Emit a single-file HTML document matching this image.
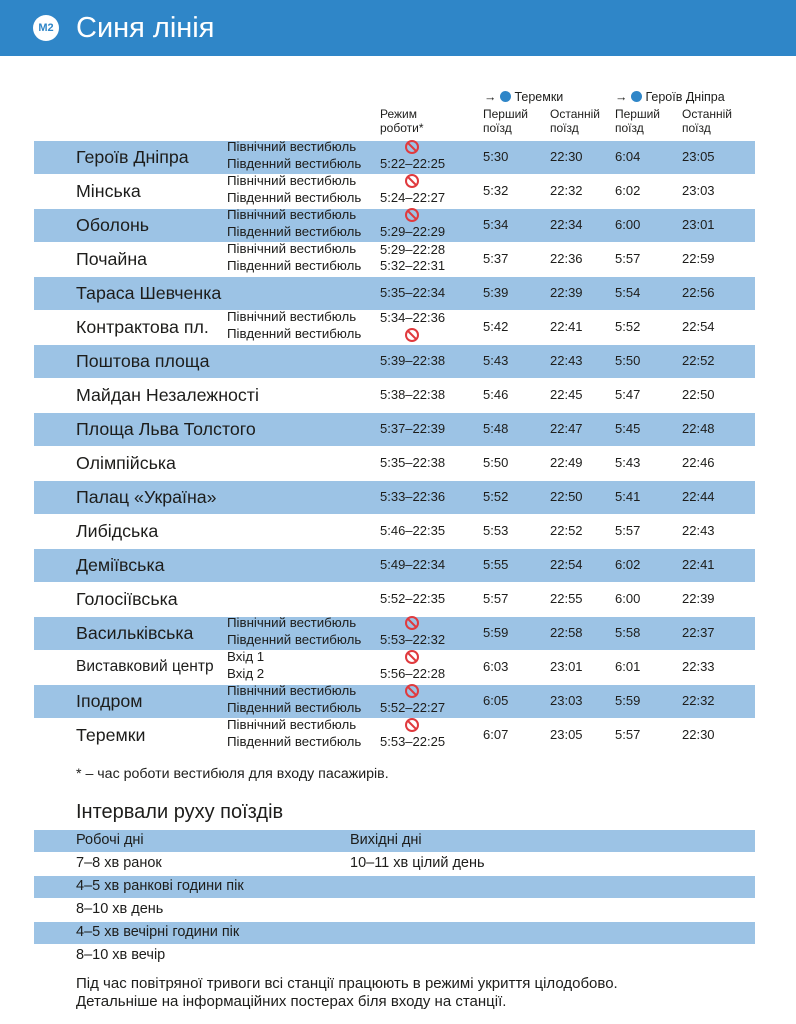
<!DOCTYPE html>
<html><head><meta charset="utf-8"><style>
*{margin:0;padding:0;box-sizing:border-box}
body{width:796px;height:1024px;background:#fff;position:relative;overflow:hidden;font-family:"Liberation Sans",sans-serif;color:#1d1d1b}
.hdr{position:absolute;left:0;top:0;width:796px;height:56px;background:#2f86c8}
.hdr .m{position:absolute;left:33px;top:15px;width:26px;height:26px;border-radius:50%;background:#fff;color:#2f86c8;font-size:11px;font-weight:bold;text-align:center;line-height:26px}
.hdr .t{position:absolute;left:76px;top:10px;color:#fff;font-size:29px;line-height:36px}
.r{position:absolute;left:34px;width:721px;height:34px}
.b{background:#9cc3e5;box-shadow:inset 0 1px 0 #fff}
.r span{position:absolute;white-space:nowrap}
.n{left:42px;top:7px;font-size:17.8px;line-height:20px}
.v1{left:193px;top:-1px;font-size:13.3px;line-height:16px}
.v2{left:193px;top:16px;font-size:13.3px;line-height:16px}
.rg{left:346px;top:9px;font-size:13px;line-height:16px}
.rg2{left:346px;top:16px;font-size:13px;line-height:16px}
.rg1{left:346px;top:0px;font-size:13px;line-height:16px}
.ic{width:14px;height:14px;border:2.5px solid #e03a3e;border-radius:50%;}
.ic::after{content:"";position:absolute;left:4px;top:-1px;width:2px;height:12px;background:#e03a3e;transform:rotate(-45deg)}
.i1{left:371px;top:0px}
.i2{left:371px;top:18px}
.c1{left:449px;top:9px;font-size:13px;line-height:16px}
.c2{left:516px;top:9px;font-size:13px;line-height:16px}
.c3{left:581px;top:9px;font-size:13px;line-height:16px}
.c4{left:648px;top:9px;font-size:13px;line-height:16px}
.h{position:absolute;font-size:12px;line-height:14px;white-space:nowrap}
.sm{position:absolute;font-size:13.5px;white-space:nowrap}
.ir{position:absolute;left:34px;width:721px;height:23px}
.ir span{position:absolute;top:3px;font-size:14.5px;white-space:nowrap}
.mc{display:inline-block;width:11px;height:11px;border-radius:50%;background:#2f86c8;vertical-align:-1px}
</style></head><body>
<div class="hdr"><div class="m">M2</div><div class="t">Синя лінія</div></div>

<div class="h" style="left:484px;top:90px;font-size:12.5px">→ <span class="mc"></span> Теремки</div>
<div class="h" style="left:615px;top:90px;font-size:12.5px">→ <span class="mc"></span> Героїв Дніпра</div>
<div class="h" style="left:380px;top:107px">Режим<br>роботи*</div>
<div class="h" style="left:483px;top:107px">Перший<br>поїзд</div>
<div class="h" style="left:550px;top:107px">Останній<br>поїзд</div>
<div class="h" style="left:615px;top:107px">Перший<br>поїзд</div>
<div class="h" style="left:682px;top:107px">Останній<br>поїзд</div>

<div class="r b" style="top:140px"><span class="n">Героїв Дніпра</span><span class="v1">Північний вестибюль</span><span class="v2">Південний вестибюль</span><span class="ic i1"></span><span class="rg2">5:22–22:25</span><span class="c1">5:30</span><span class="c2">22:30</span><span class="c3">6:04</span><span class="c4">23:05</span></div>
<div class="r" style="top:174px"><span class="n">Мінська</span><span class="v1">Північний вестибюль</span><span class="v2">Південний вестибюль</span><span class="ic i1"></span><span class="rg2">5:24–22:27</span><span class="c1">5:32</span><span class="c2">22:32</span><span class="c3">6:02</span><span class="c4">23:03</span></div>
<div class="r b" style="top:208px"><span class="n">Оболонь</span><span class="v1">Північний вестибюль</span><span class="v2">Південний вестибюль</span><span class="ic i1"></span><span class="rg2">5:29–22:29</span><span class="c1">5:34</span><span class="c2">22:34</span><span class="c3">6:00</span><span class="c4">23:01</span></div>
<div class="r" style="top:242px"><span class="n">Почайна</span><span class="v1">Північний вестибюль</span><span class="v2">Південний вестибюль</span><span class="rg1">5:29–22:28</span><span class="rg2">5:32–22:31</span><span class="c1">5:37</span><span class="c2">22:36</span><span class="c3">5:57</span><span class="c4">22:59</span></div>
<div class="r b" style="top:276px"><span class="n">Тараса Шевченка</span><span class="rg">5:35–22:34</span><span class="c1">5:39</span><span class="c2">22:39</span><span class="c3">5:54</span><span class="c4">22:56</span></div>
<div class="r" style="top:310px"><span class="n">Контрактова пл.</span><span class="v1">Північний вестибюль</span><span class="v2">Південний вестибюль</span><span class="rg1">5:34–22:36</span><span class="ic i2"></span><span class="c1">5:42</span><span class="c2">22:41</span><span class="c3">5:52</span><span class="c4">22:54</span></div>
<div class="r b" style="top:344px"><span class="n">Поштова площа</span><span class="rg">5:39–22:38</span><span class="c1">5:43</span><span class="c2">22:43</span><span class="c3">5:50</span><span class="c4">22:52</span></div>
<div class="r" style="top:378px"><span class="n">Майдан Незалежності</span><span class="rg">5:38–22:38</span><span class="c1">5:46</span><span class="c2">22:45</span><span class="c3">5:47</span><span class="c4">22:50</span></div>
<div class="r b" style="top:412px"><span class="n">Площа Льва Толстого</span><span class="rg">5:37–22:39</span><span class="c1">5:48</span><span class="c2">22:47</span><span class="c3">5:45</span><span class="c4">22:48</span></div>
<div class="r" style="top:446px"><span class="n">Олімпійська</span><span class="rg">5:35–22:38</span><span class="c1">5:50</span><span class="c2">22:49</span><span class="c3">5:43</span><span class="c4">22:46</span></div>
<div class="r b" style="top:480px"><span class="n">Палац «Україна»</span><span class="rg">5:33–22:36</span><span class="c1">5:52</span><span class="c2">22:50</span><span class="c3">5:41</span><span class="c4">22:44</span></div>
<div class="r" style="top:514px"><span class="n">Либідська</span><span class="rg">5:46–22:35</span><span class="c1">5:53</span><span class="c2">22:52</span><span class="c3">5:57</span><span class="c4">22:43</span></div>
<div class="r b" style="top:548px"><span class="n">Деміївська</span><span class="rg">5:49–22:34</span><span class="c1">5:55</span><span class="c2">22:54</span><span class="c3">6:02</span><span class="c4">22:41</span></div>
<div class="r" style="top:582px"><span class="n">Голосіївська</span><span class="rg">5:52–22:35</span><span class="c1">5:57</span><span class="c2">22:55</span><span class="c3">6:00</span><span class="c4">22:39</span></div>
<div class="r b" style="top:616px"><span class="n">Васильківська</span><span class="v1">Північний вестибюль</span><span class="v2">Південний вестибюль</span><span class="ic i1"></span><span class="rg2">5:53–22:32</span><span class="c1">5:59</span><span class="c2">22:58</span><span class="c3">5:58</span><span class="c4">22:37</span></div>
<div class="r" style="top:650px"><span class="n" style="font-size:15.5px">Виставковий центр</span><span class="v1">Вхід 1</span><span class="v2">Вхід 2</span><span class="ic i1"></span><span class="rg2">5:56–22:28</span><span class="c1">6:03</span><span class="c2">23:01</span><span class="c3">6:01</span><span class="c4">22:33</span></div>
<div class="r b" style="top:684px"><span class="n">Іподром</span><span class="v1">Північний вестибюль</span><span class="v2">Південний вестибюль</span><span class="ic i1"></span><span class="rg2">5:52–22:27</span><span class="c1">6:05</span><span class="c2">23:03</span><span class="c3">5:59</span><span class="c4">22:32</span></div>
<div class="r" style="top:718px"><span class="n">Теремки</span><span class="v1">Північний вестибюль</span><span class="v2">Південний вестибюль</span><span class="ic i1"></span><span class="rg2">5:53–22:25</span><span class="c1">6:07</span><span class="c2">23:05</span><span class="c3">5:57</span><span class="c4">22:30</span></div>

<div class="sm" style="left:76px;top:766px;font-size:14.2px">* – час роботи вестибюля для входу пасажирів.</div>
<div class="sm" style="left:76px;top:801px;font-size:20px">Інтервали руху поїздів</div>

<div class="ir b" style="top:829px"><span style="left:42px">Робочі дні</span><span style="left:316px">Вихідні дні</span></div>
<div class="ir" style="top:852px"><span style="left:42px">7–8 хв ранок</span><span style="left:316px">10–11 хв цілий день</span></div>
<div class="ir b" style="top:875px"><span style="left:42px">4–5 хв ранкові години пік</span></div>
<div class="ir" style="top:898px"><span style="left:42px">8–10 хв день</span></div>
<div class="ir b" style="top:921px"><span style="left:42px">4–5 хв вечірні години пік</span></div>
<div class="ir" style="top:944px"><span style="left:42px">8–10 хв вечір</span></div>

<div class="sm" style="left:76px;top:975px;line-height:18px;font-size:15px">Під час повітряної тривоги всі станції працюють в режимі укриття цілодобово.<br>Детальніше на інформаційних постерах біля входу на станції.</div>
</body></html>
